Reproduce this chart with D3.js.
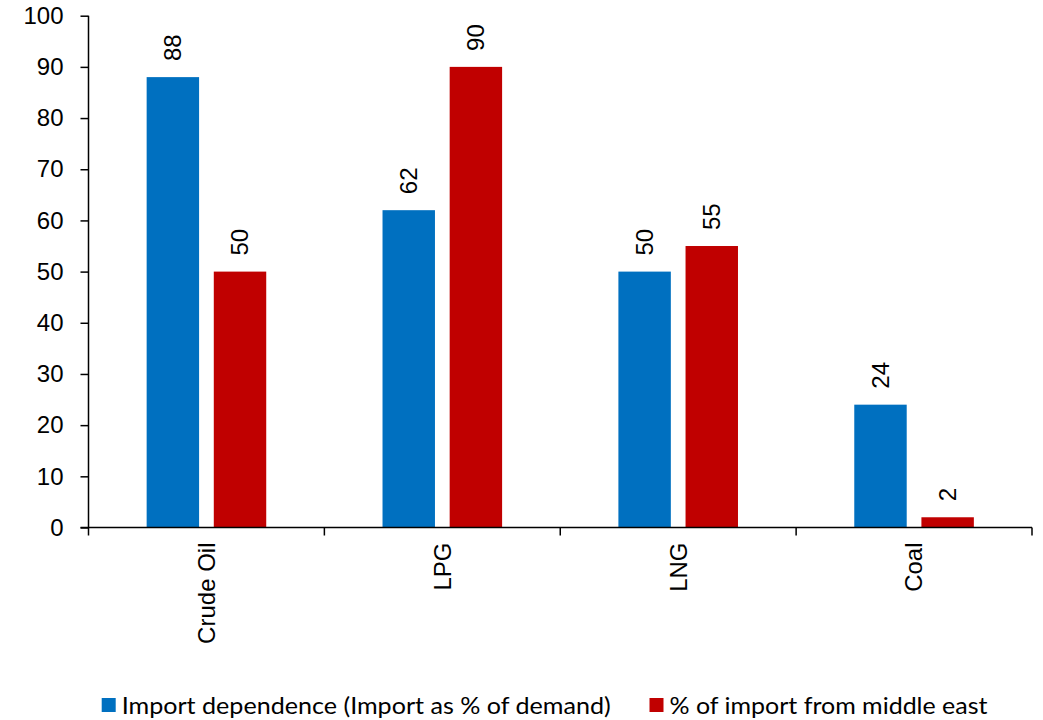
<!DOCTYPE html>
<html>
<head>
<meta charset="utf-8">
<script src="https://cdn.jsdelivr.net/npm/d3@7"></script>
<style>
  html, body { margin: 0; padding: 0; background: #fff; }
  svg { display: block; }
  text { font-family: "Liberation Sans", Arial, sans-serif; fill: #000; }
</style>
</head>
<body>
<svg id="chart" width="1043" height="720"></svg>
<script>
// Fuel categories and the two measured series (percent)
const categories = ["Crude Oil", "LPG", "LNG", "Coal"];
const seriesNames = ["Import dependence (Import as % of demand)", "% of import from middle east"];
const importDependence = [88, 62, 50, 24];
const middleEastShare = [50, 90, 55, 2];
const yTicks = [0, 10, 20, 30, 40, 50, 60, 70, 80, 90, 100];
const colors = ["#0070C0", "#C00000"];

const rows = categories.map((c, i) => ({
  category: c,
  values: [importDependence[i], middleEastShare[i]]
}));

const svg = d3.select("#chart");
const plot = { left: 88.5, right: 1032, top: 15.7, bottom: 527.5 };
const fontSize = "24px";

const x = d3.scaleBand()
  .domain(categories)
  .range([plot.left, plot.right])
  .paddingInner(0)
  .paddingOuter(0);

const xSub = d3.scaleBand()
  .domain(d3.range(seriesNames.length))
  .range([0, x.bandwidth()])
  .paddingInner(0.219)
  .paddingOuter(0.866);

const y = d3.scaleLinear()
  .domain([0, 100])
  .range([plot.bottom, plot.top]);

// Bars
const groups = svg.append("g").selectAll("g")
  .data(rows)
  .join("g")
  .attr("transform", d => `translate(${x(d.category)},0)`);

groups.selectAll("rect")
  .data(d => d.values.map((v, k) => ({ v, k })))
  .join("rect")
  .attr("x", d => xSub(d.k))
  .attr("width", xSub.bandwidth())
  .attr("y", d => y(d.v))
  .attr("height", d => y(0) - y(d.v))
  .attr("fill", d => colors[d.k]);

// Rotated value labels above each bar
groups.selectAll("text.val")
  .data(d => d.values.map((v, k) => ({ v, k })))
  .join("text")
  .attr("class", "val")
  .attr("transform", d => `translate(${xSub(d.k) + xSub.bandwidth() / 2},${y(d.v) - 16}) rotate(-90)`)
  .attr("dy", "0.35em")
  .attr("text-anchor", "start")
  .style("font-size", fontSize)
  .text(d => d.v);

// Y axis
const yAxis = svg.append("g")
  .attr("transform", `translate(${plot.left},0)`)
  .call(d3.axisLeft(y).tickValues(yTicks).tickSize(8).tickPadding(17).tickSizeOuter(0));
yAxis.select(".domain").attr("stroke", "#000").attr("stroke-width", 1.5)
  .attr("d", `M0,${plot.top}V${plot.bottom}`);
yAxis.selectAll(".tick line").attr("stroke", "#000").attr("stroke-width", 1.5);
yAxis.selectAll(".tick text")
  .style("font-size", fontSize)
  .style("font-family", "'Liberation Sans', Arial, sans-serif");

// X axis baseline with ticks at category boundaries
const xAxis = svg.append("g");
xAxis.append("line")
  .attr("x1", plot.left - 8).attr("x2", plot.right)
  .attr("y1", y(0)).attr("y2", y(0))
  .attr("stroke", "#000").attr("stroke-width", 1.5);
const bounds = categories.map(c => x(c)).concat([x.range()[1]]);
xAxis.selectAll("line.tk")
  .data(bounds)
  .join("line")
  .attr("class", "tk")
  .attr("x1", d => d).attr("x2", d => d)
  .attr("y1", y(0)).attr("y2", y(0) + 8)
  .attr("stroke", "#000").attr("stroke-width", 1.5);

// Rotated category labels
xAxis.selectAll("text.cat")
  .data(categories)
  .join("text")
  .attr("class", "cat")
  .attr("transform", d => `translate(${x(d) + x.bandwidth() / 2},${y(0) + 15}) rotate(-90)`)
  .attr("dy", "0.35em")
  .attr("text-anchor", "end")
  .style("font-size", fontSize)
  .text(d => d);

// Legend
const legendItems = [
  { name: seriesNames[0], color: colors[0], x: 101.7, len: 489 },
  { name: seriesNames[1], color: colors[1], x: 649.5, len: 318 }
];
const legend = svg.append("g").selectAll("g")
  .data(legendItems)
  .join("g")
  .attr("transform", d => `translate(${d.x},698)`);
legend.append("rect")
  .attr("width", 14).attr("height", 14)
  .attr("fill", d => d.color);
legend.append("text")
  .attr("x", 20)
  .attr("y", 7)
  .attr("dy", "0.36em")
  .attr("textLength", d => d.len)
  .attr("lengthAdjust", "spacingAndGlyphs")
  .style("font-family", "Lato, 'Open Sans', sans-serif")
  .style("font-size", "24px")
  .text(d => d.name);
</script>
</body>
</html>
